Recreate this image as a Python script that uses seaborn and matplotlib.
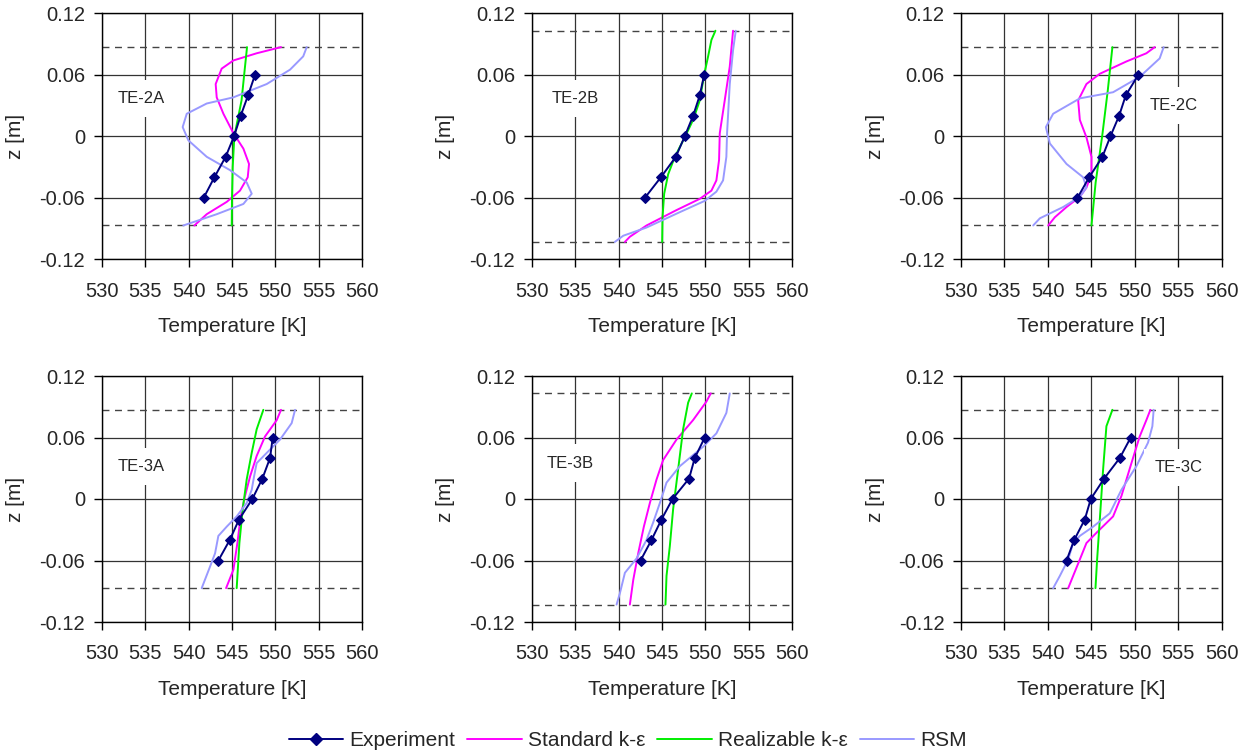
import pandas as pd
import matplotlib.pyplot as plt
import seaborn as sns
from matplotlib.lines import Line2D

# experiment: fixed heights, one temperature list per case
exp_z = [0.06, 0.04, 0.02, 0.0, -0.02, -0.04, -0.06]
exp_2A = [547.65, 546.85, 546.0, 545.23, 544.27, 542.97, 541.74]
exp_2B = [549.85, 549.35, 548.58, 547.62, 546.59, 544.87, 543.03]
exp_2C = [550.42, 548.97, 548.20, 547.20, 546.28, 544.75, 543.41]
exp_3A = [549.69, 549.38, 548.50, 547.34, 545.81, 544.74, 543.43]
exp_3B = [549.92, 548.77, 548.12, 546.21, 544.94, 543.79, 542.53]
exp_3C = [549.54, 548.28, 546.48, 544.94, 544.25, 543.03, 542.15]

# model profiles as (T, z) pairs
std_2A = [(550.64, 0.087), (547.84, 0.081), (545.16, 0.074), (543.81, 0.066), (543.12, 0.051),
          (543.24, 0.038), (544.01, 0.022), (545.16, 0.003), (546.31, -0.012), (546.96, -0.027),
          (546.81, -0.040), (545.92, -0.053), (544.39, -0.064), (542.09, -0.076), (540.67, -0.087)]
real_2A = [(546.73, 0.087), (546.4, 0.06), (546.1, 0.035), (545.27, 0.0), (545.08, -0.03),
           (545.0, -0.06), (544.97, -0.087)]
rsm_2A = [(553.6, 0.087), (553.2, 0.078), (551.68, 0.065), (549.0, 0.051), (545.16, 0.038),
          (542.09, 0.032), (539.79, 0.022), (539.32, 0.009), (539.98, -0.004), (542.09, -0.020),
          (544.77, -0.033), (546.69, -0.045), (547.27, -0.056), (546.31, -0.066), (543.24, -0.076),
          (539.40, -0.087)]

std_2B = [(553.18, 0.103), (552.80, 0.068), (552.22, 0.035), (551.65, 0.003), (551.57, -0.023),
          (551.26, -0.043), (550.69, -0.053), (549.35, -0.061), (546.67, -0.072), (543.22, -0.087),
          (541.30, -0.098), (540.73, -0.103)]
real_2B = [(551.15, 0.103), (550.69, 0.094), (550.31, 0.078), (549.85, 0.060), (549.35, 0.035),
           (548.58, 0.016), (547.62, -0.001), (546.48, -0.020), (545.71, -0.037), (545.25, -0.056),
           (545.06, -0.079), (545.02, -0.103)]
rsm_2B = [(553.49, 0.103), (553.18, 0.084), (552.80, 0.051), (552.49, 0.003), (552.41, -0.020),
          (552.03, -0.043), (551.26, -0.054), (549.92, -0.063), (547.05, -0.074), (543.22, -0.089),
          (540.54, -0.097), (539.58, -0.103)]

std_2C = [(552.30, 0.087), (551.34, 0.081), (549.04, 0.073), (545.98, 0.061), (544.44, 0.051),
          (543.49, 0.035), (543.68, 0.016), (544.44, -0.001), (545.02, -0.020), (545.02, -0.037),
          (544.44, -0.050), (543.68, -0.059), (542.15, -0.069), (540.80, -0.079), (540.04, -0.087)]
real_2C = [(547.43, 0.087), (546.9, 0.045), (546.25, 0.0), (545.5, -0.045), (545.02, -0.087)]
rsm_2C = [(553.33, 0.087), (552.87, 0.076), (550.57, 0.058), (547.51, 0.043), (543.68, 0.037),
          (540.61, 0.022), (539.77, 0.009), (540.23, -0.007), (542.15, -0.027), (544.06, -0.040),
          (544.44, -0.050), (543.68, -0.059), (541.76, -0.069), (539.08, -0.080), (538.31, -0.087)]

std_3A = [(550.64, 0.087), (550.15, 0.077), (548.80, 0.061), (547.84, 0.042), (547.08, 0.022),
          (546.50, 0.003), (546.0, -0.017), (545.62, -0.043), (545.16, -0.069), (544.32, -0.087)]
real_3A = [(548.61, 0.087), (547.84, 0.068), (547.27, 0.045), (546.69, 0.019), (546.23, -0.010),
           (545.85, -0.043), (545.54, -0.087)]
rsm_3A = [(552.26, 0.087), (551.87, 0.074), (550.53, 0.058), (549.0, 0.045), (547.84, 0.035),
          (547.54, 0.022), (547.27, 0.009), (546.69, -0.004), (545.54, -0.017), (544.39, -0.027),
          (543.43, -0.036), (543.05, -0.053), (542.47, -0.066), (541.51, -0.087)]

std_3B = [(550.61, 0.103), (550.11, 0.095), (548.58, 0.077), (546.67, 0.058), (545.13, 0.038),
          (544.37, 0.019), (543.60, -0.004), (542.91, -0.027), (542.26, -0.053), (541.69, -0.079),
          (541.30, -0.103)]
real_3B = [(548.43, 0.103), (548.01, 0.094), (547.43, 0.068), (546.86, 0.029), (546.28, -0.010),
           (545.90, -0.046), (545.52, -0.075), (545.40, -0.103)]
rsm_3B = [(552.80, 0.103), (552.41, 0.084), (551.26, 0.064), (549.73, 0.051), (547.05, 0.032),
          (545.52, 0.016), (544.75, -0.004), (543.98, -0.023), (543.22, -0.040), (542.07, -0.058),
          (540.73, -0.072), (540.15, -0.092), (539.77, -0.103)]

std_3C = [(551.80, 0.087), (551.34, 0.077), (550.57, 0.061), (549.62, 0.035), (548.47, 0.003),
          (547.51, -0.017), (545.59, -0.033), (544.44, -0.043), (543.68, -0.059), (542.91, -0.075),
          (542.34, -0.087)]
real_3C = [(547.43, 0.087), (546.74, 0.071), (546.36, 0.029), (545.98, -0.020), (545.67, -0.059),
           (545.48, -0.087)]
rsm_3C = [(552.18, 0.087), (552.03, 0.071), (551.53, 0.055), (550.19, 0.032), (548.47, 0.009),
          (547.13, -0.014), (545.21, -0.027), (543.68, -0.036), (542.91, -0.043), (542.34, -0.059),
          (541.38, -0.075), (540.61, -0.087)]

cases = ["TE-2A", "TE-2B", "TE-2C", "TE-3A", "TE-3B", "TE-3C"]
exp_T = [exp_2A, exp_2B, exp_2C, exp_3A, exp_3B, exp_3C]
std_all = [std_2A, std_2B, std_2C, std_3A, std_3B, std_3C]
real_all = [real_2A, real_2B, real_2C, real_3A, real_3B, real_3C]
rsm_all = [rsm_2A, rsm_2B, rsm_2C, rsm_3A, rsm_3B, rsm_3C]
dash_z = [0.087, 0.103, 0.087, 0.087, 0.103, 0.087]
label_pos = [(531.8, 0.037), (532.3, 0.037), (551.75, 0.030), (531.8, 0.0315), (531.7, 0.035), (552.3, 0.031)]

models = ["Standard k-\u03b5", "Realizable k-\u03b5", "RSM"]
colors = {"Experiment": "#000080", "Standard k-\u03b5": "#FF00FF",
          "Realizable k-\u03b5": "#00EE00", "RSM": "#9999FF"}

# long table for seaborn
rows = []
for case, et, s, r, m in zip(cases, exp_T, std_all, real_all, rsm_all):
    for i, (t, z) in enumerate(zip(et, exp_z)):
        rows.append((case, "Experiment", i, t, z))
    for name, pts in zip(models, [s, r, m]):
        for i, (t, z) in enumerate(pts):
            rows.append((case, name, i, t, z))
df = pd.DataFrame(rows, columns=["case", "model", "order", "T", "z"])

sns.set_style("white")
plt.rcParams["font.family"] = ["Liberation Sans", "DejaVu Sans"]
plt.rcParams["axes.unicode_minus"] = False

fig = plt.figure(figsize=(12.53, 7.54), dpi=100)
W, H = 1253, 754
col_left = [101.7, 531.7, 961.0]
row_top = [13.3, 376.0]
aw, ah = 260.6, 246.0

for k, case in enumerate(cases):
    r, c = divmod(k, 3)
    ax = fig.add_axes([col_left[c] / W, 1 - (row_top[r] + ah) / H, aw / W, ah / H])
    sub = df[df["case"] == case]
    for name in models:
        sns.lineplot(data=sub[sub["model"] == name], x="T", y="z", sort=False, estimator=None,
                     color=colors[name], lw=1.4, ax=ax)
    sns.lineplot(data=sub[sub["model"] == "Experiment"], x="T", y="z", sort=False, estimator=None,
                 color=colors["Experiment"], lw=1.4, marker="D", markersize=5,
                 markeredgecolor=colors["Experiment"], ax=ax)
    for zz in (dash_z[k], -dash_z[k]):
        ax.axhline(zz, color="#444444", lw=1, ls=(0, (5, 4)), zorder=1)
    ax.set_xlim(530, 560)
    ax.set_ylim(-0.12, 0.12)
    ax.set_xticks(range(530, 561, 5))
    ax.set_yticks([-0.12, -0.06, 0, 0.06, 0.12])
    ax.set_yticklabels(["-0.12", "-0.06", "0", "0.06", "0.12"])
    ax.grid(True, color="#333333", lw=0.9)
    ax.set_axisbelow(True)
    for sp in ax.spines.values():
        sp.set_color("black")
        sp.set_linewidth(1)
    ax.tick_params(axis="both", which="major", direction="out", length=6, width=1,
                   color="black", labelsize=14.5, left=True, bottom=True)
    ax.tick_params(axis="x", pad=10)
    ax.tick_params(axis="y", pad=6)
    ax.set_xlabel("Temperature [K]", fontsize=15, labelpad=12)
    ax.set_ylabel("z [m]", fontsize=15, labelpad=10)
    tx, tz = label_pos[k]
    ax.text(tx, tz, case, fontsize=12, ha="left", va="center", zorder=3,
            bbox=dict(facecolor="white", edgecolor="none", pad=8))

handles = [Line2D([], [], color=colors["Experiment"], lw=1.4, marker="D", markersize=6)]
handles += [Line2D([], [], color=colors[n], lw=1.4) for n in models]
fig.legend(handles, ["Experiment"] + models, loc="center", bbox_to_anchor=(628 / W, 1 - 741 / H),
           ncol=4, frameon=False, fontsize=15, handlelength=2.6, columnspacing=0.58, handletextpad=0.3)

fig.savefig("out.png", dpi=100)
